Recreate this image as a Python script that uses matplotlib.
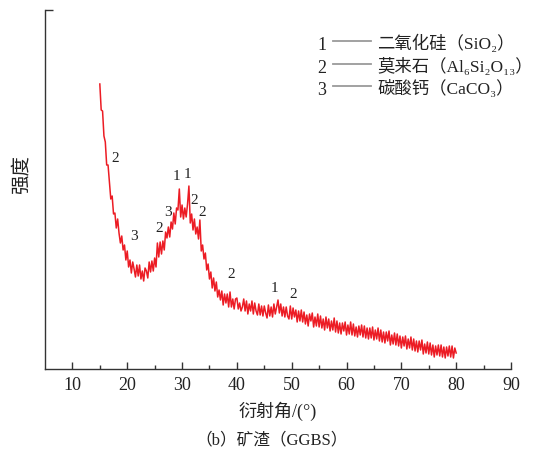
import numpy as np
import matplotlib
matplotlib.use("Agg")
import matplotlib.pyplot as plt
from matplotlib.lines import Line2D

plt.rcParams['font.family'] = ['Liberation Serif', 'Noto Sans CJK SC', 'DejaVu Serif']

# XRD scan of the slag sample, 15-80 deg in 0.25 deg steps
two_theta = np.arange(15.0, 80.001, 0.25)
intensity = [
    285, 259, 258, 233, 227, 204, 204, 187, 170, 173, 155, 156, 141, 150, 136, 126, 133, 119, 124, 109,   # 15-19.75
    118, 102, 109, 96, 107, 100, 92, 104, 93, 104, 90, 98, 88, 101, 98, 91, 107, 97, 108, 98,            # 20-24.75
    111, 102, 126, 112, 127, 115, 128, 119, 137, 131, 142, 132, 147, 140, 156, 145, 161, 159, 180, 152,  # 25-29.75
    164, 150, 161, 152, 165, 183, 146, 155, 139, 150, 135, 142, 130, 149, 118, 124, 110, 116, 99, 105,   # 30-34.75
    90, 97, 81, 91, 78, 87, 72, 79, 69, 78, 64, 75, 66, 75, 62, 77, 62, 70, 60, 70,                      # 35-39.75
    71, 60, 66, 58, 62, 70, 58, 68, 55, 65, 58, 68, 55, 66, 58, 54, 65, 54, 63, 53,                      # 40-44
    63, 56, 51, 64, 53, 62, 52, 65, 55, 62, 69, 56, 65, 53, 62, 52, 62, 53, 50, 63,                      # 45-49
    50, 61, 52, 59, 47, 58, 48, 59, 47, 57, 45, 54, 43, 55, 48, 56, 42, 52, 43, 55,                      # 50-54
    42, 53, 41, 50, 39, 52, 41, 50, 38, 48, 39, 51, 37, 48, 36, 46, 35, 46, 38, 47,                      # 55-59
    34, 44, 35, 47, 34, 45, 33, 42, 32, 43, 34, 44, 32, 43, 31, 41, 30, 41, 31, 42,                      # 60-64
    29, 39, 30, 41, 28, 39, 27, 37, 26, 37, 28, 38, 24, 34, 25, 36, 24, 35, 23, 33,                      # 65-69
    21, 32, 23, 33, 20, 30, 21, 32, 19, 30, 18, 28, 17, 28, 19, 29, 15, 25, 16, 27,                      # 70-74
    15, 26, 14, 24, 12, 23, 14, 24, 13, 24, 12, 22, 11, 22, 13, 23, 12, 23, 11, 21,                      # 75-79
    16,                                                                                                  # 80
]

# phase markers: (2theta, height, phase number)
peak_pos = [17.85, 21.3, 25.9, 27.4, 29.0, 31.0, 32.3, 33.6, 39.0, 46.9, 50.2]
peak_y = [211, 133, 141, 156, 192, 194, 169, 156, 94, 81, 75]
peak_id = ['2', '3', '2', '3', '1', '1', '2', '2', '2', '1', '2']

phase_num = ['1', '2', '3']
phase_name = ['二氧化硅（SiO₂）', '莫来石（Al₆Si₂O₁₃）', '碳酸钙（CaCO₃）']

W, H = 544, 457
fig = plt.figure(figsize=(W / 100, H / 100), dpi=100)
ax = fig.add_axes([45 / W, 1 - 369 / H, (511 - 45) / W, (369 - 10) / H])

ax.plot(two_theta, intensity, color='#ec1c24', lw=1.1)

for x, y, s in zip(peak_pos, peak_y, peak_id):
    ax.text(x, y, s, fontsize=11, ha='center', va='center', color='#222222')

ax.set_xlim(5, 90)
ax.set_ylim(0, 359)
ax.spines['top'].set_visible(False)
ax.spines['right'].set_visible(False)
for sp in ['left', 'bottom']:
    ax.spines[sp].set_color('#333333')
    ax.spines[sp].set_linewidth(1.0)

ax.set_xticks(np.arange(10, 91, 10))
ax.set_xticks(np.arange(15, 90, 10), minor=True)
ax.set_yticks([359])
ax.set_yticklabels([])
ax.tick_params(axis='x', which='major', direction='in', length=5, width=1,
               labelsize=13, pad=6, colors='#333333', labelcolor='#222222')
ax.tick_params(axis='x', which='minor', direction='in', length=3, width=1, colors='#333333')
ax.tick_params(axis='y', direction='in', length=6, width=1, colors='#333333')

fig.text(278 / W, 1 - 411 / H, '衍射角/(°)', fontsize=13, ha='center', va='center', color='#222222')
fig.text(272 / W, 1 - 440 / H, '（b）矿渣（GGBS）', fontsize=12, ha='center', va='center', color='#222222')
fig.text(22 / W, 1 - 175 / H, '强度', fontsize=14, rotation=90, ha='center', va='center', color='#222222')

# phase legend drawn by hand: number, grey dash, name
for i, (num, name) in enumerate(zip(phase_num, phase_name)):
    yy = 1 - (44 + 22.5 * i) / H
    fig.text(322 / W, yy - 0.004, num, fontsize=13, ha='center', va='center', color='#222222')
    fig.add_artist(Line2D([333 / W, 371 / W], [yy + 0.006, yy + 0.006], color='#9a9a9a', lw=1.3))
    fig.text(377 / W, yy, name, fontsize=12.5, ha='left', va='center', color='#222222')

fig.savefig('out.png', dpi=100)
